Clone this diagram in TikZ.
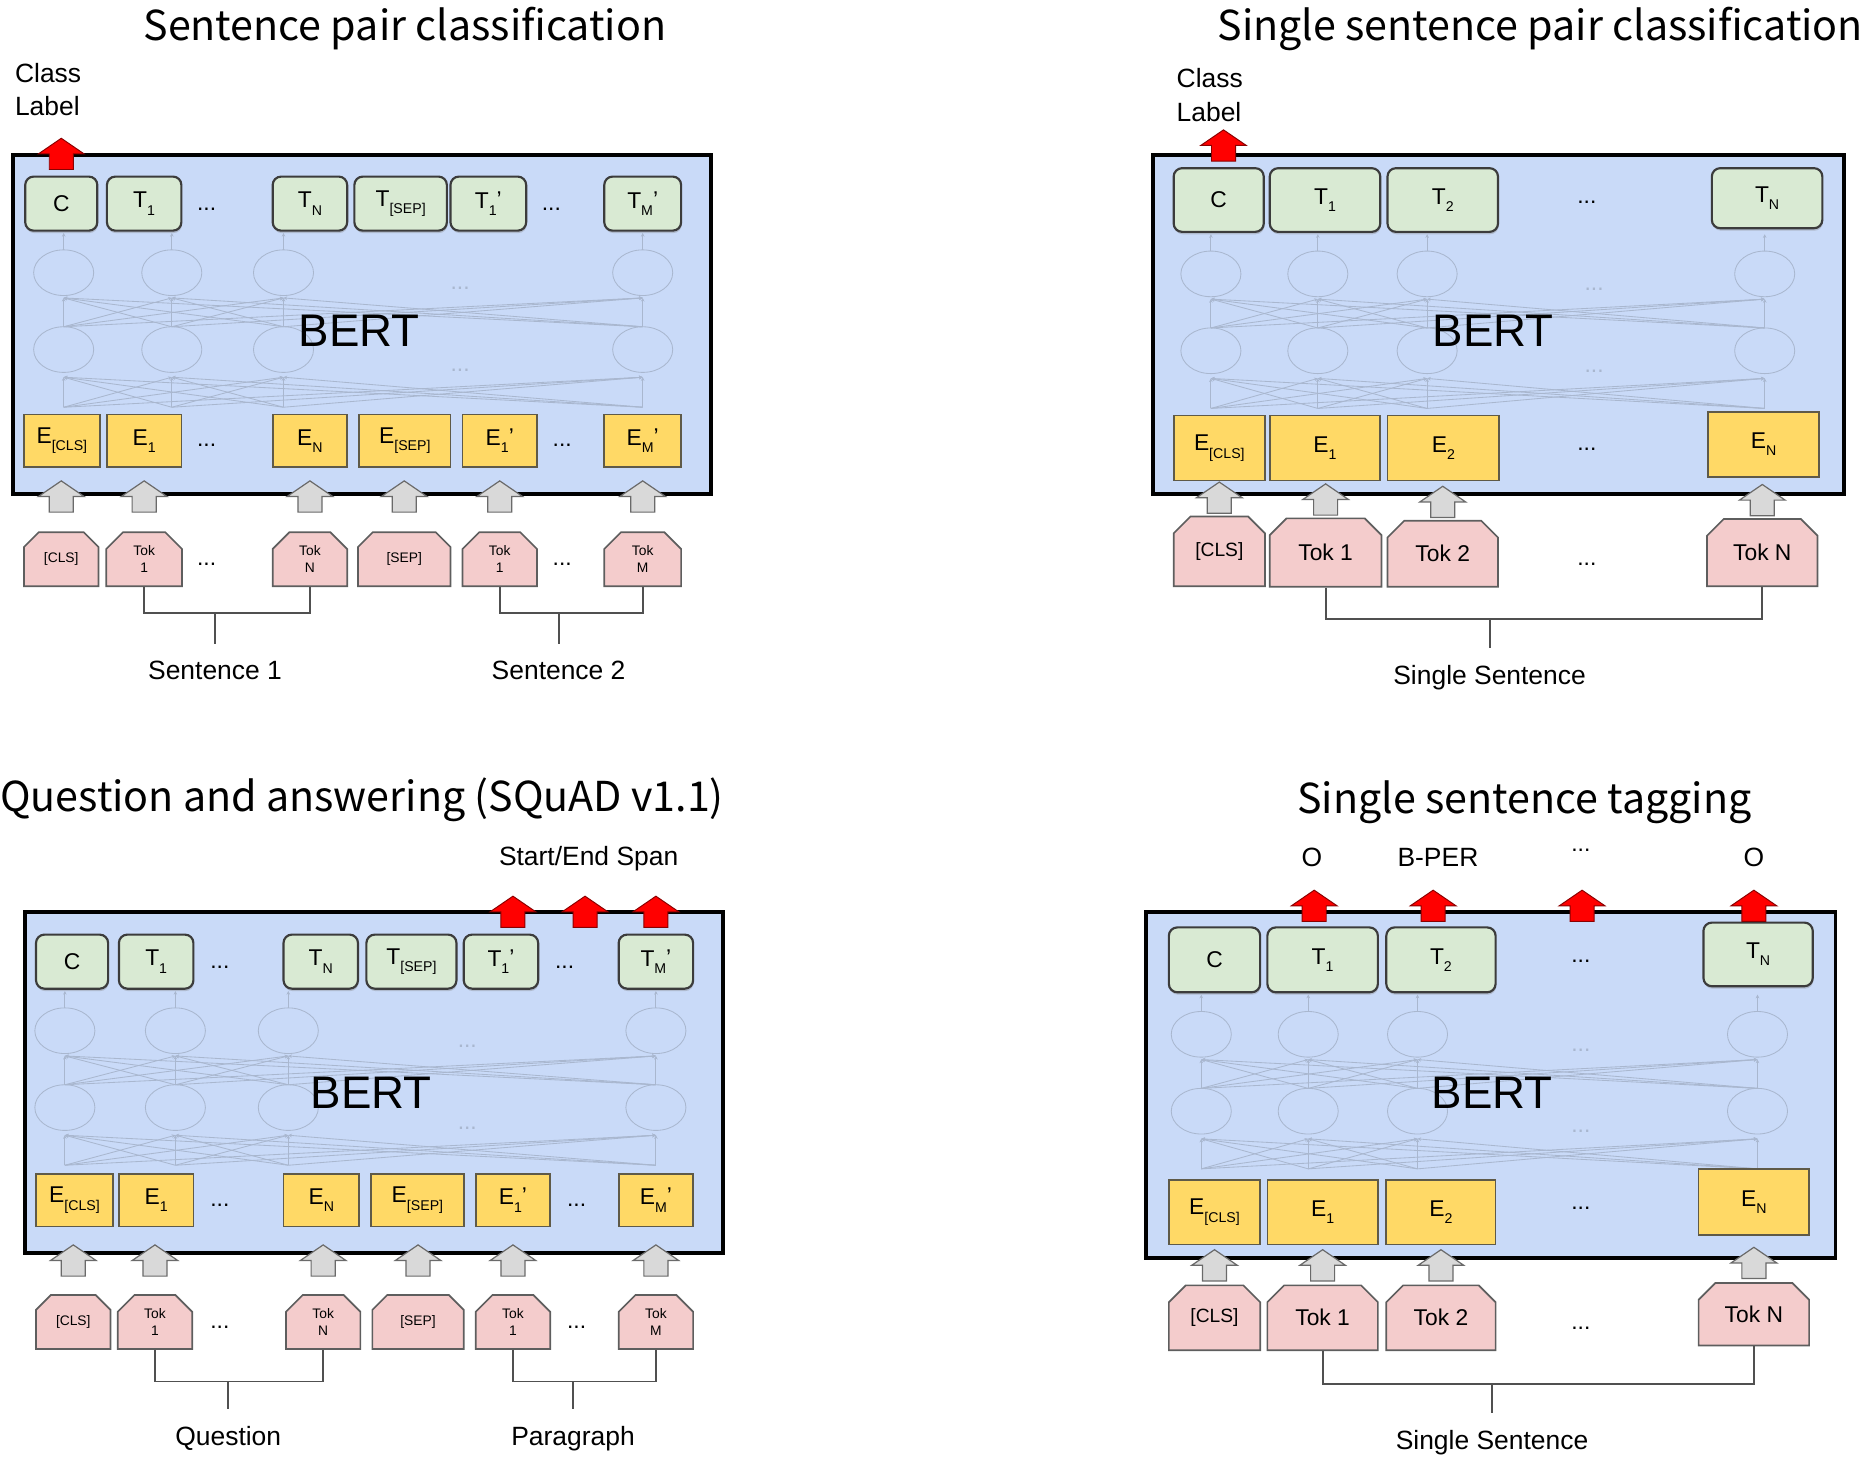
\documentclass[tikz,border=0pt]{standalone}
\usepackage{fontspec}
\usepackage{graphicx}
\setmainfont{Liberation Sans}
\newfontfamily\titlefont{Noto Sans CJK KR}
\usetikzlibrary{shapes.misc,shadows,calc,positioning,arrows.meta}

\definecolor{bertblue}{HTML}{C9DAF8}
\definecolor{outgreen}{HTML}{D9EAD3}
\definecolor{embyellow}{HTML}{FFD966}
\definecolor{tokpink}{HTML}{F4CCCC}
\definecolor{arrowgray}{HTML}{D9D9D9}
\definecolor{greenedge}{HTML}{3C3C3C}
\definecolor{yellowedge}{HTML}{5F5A48}
\definecolor{pinkedge}{HTML}{5E5E5E}
\definecolor{grayedge}{HTML}{6A6A6A}
\definecolor{rededge}{HTML}{8A0000}
\definecolor{netgray}{HTML}{A9B7CF}
\definecolor{linegray}{HTML}{505050}

\newcommand{\boxfont}{\fontsize{19}{22}\selectfont}
\newcommand{\smallfont}{\fontsize{11.5}{14}\selectfont}
\newcommand{\lo}[1]{\raisebox{-0.6ex}{\scalebox{0.62}{#1}}}
\newcommand{\lop}[1]{\lo{#1}\raisebox{0.1ex}{'}}

% faint layers inside a BERT box: #1 columns, #2 bottom of the top row, #3 x of the dots, #4 prefix
\newcommand{\bertnet}[4]{%
  \foreach \cx in {#1} {
    \draw[netline] (\cx,#2+35) ellipse [x radius=25, y radius=19];
    \draw[netline] (\cx,#2+99) ellipse [x radius=25, y radius=19];
    \draw[netline,-{Stealth[length=3pt,width=3pt]}] (\cx,#2+16) -- (\cx,#2+2);
    \foreach \cy in {#1} {
      \draw[netline,-{Stealth[length=3pt,width=3pt]}] (\cy,#2+80) -- (\cx,#2+56);
      \draw[netline,-{Stealth[length=3pt,width=3pt]}] (\cy,#2+147) -- (\cx,#2+122);
    }
  }
  \node[netdots] (#4netdotsA) at (#3,#2+48) {...};
  \node[netdots] (#4netdotsB) at (#3,#2+116) {...};
}

\tikzset{
  blockarrow/.pic={
    \path[pic actions] (-10,0) -- (-10,-13) -- (-19,-13) -- (0,-26) -- (19,-13) -- (10,-13) -- (10,0) -- cycle;
  },
}

\begin{document}
\begin{tikzpicture}[x=1pt, y=-1pt,
  bertbox/.style={draw=black, line width=3pt, fill=bertblue},
  outbox/.style={draw=greenedge, line width=1.8pt, fill=outgreen, rounded corners=7pt, inner sep=0pt, font=\boxfont,
    drop shadow={shadow xshift=0.5pt, shadow yshift=-2pt, opacity=0.35}},
  embbox/.style={draw=yellowedge, line width=1.4pt, fill=embyellow, inner sep=0pt, font=\boxfont},
  tokbox/.style={chamfered rectangle, chamfered rectangle corners={north west,north east},
    chamfered rectangle xsep=7pt, chamfered rectangle ysep=7pt, draw=pinkedge, line width=1.4pt,
    fill=tokpink, inner sep=0pt, align=center, font=\boxfont},
  smalltok/.style={font=\smallfont},
  midtok/.style={font=\fontsize{16}{18}\selectfont},
  gapdots/.style={font=\boxfont, inner sep=1pt},
  netline/.style={draw=netgray, line width=0.7pt},
  netdots/.style={font=\boxfont, text=netgray, inner sep=1pt},
  bertlabel/.style={font=\fontsize{38}{40}\selectfont},
  lbl/.style={font=\fontsize{22}{28}\selectfont},
  paneltitle/.style={font=\titlefont\fontsize{34.3}{38}\selectfont, inner sep=0pt},
  inarrow/.style={fill=arrowgray, draw=grayedge, line width=1pt},
  outarrow/.style={fill=red, draw=rededge, line width=0.8pt},
  groupline/.style={draw=linegray, line width=1.6pt},
]
\useasboundingbox (0,0) rectangle (1560,1215.3);

% ---- sentence pair classification
\node[paneltitle] (aTitle) at (337,24) {Sentence pair classification};
\node[lbl, align=left, anchor=west] (aClass) at (9,74.5) {Class\\Label};
\draw[bertbox] (11,129) rectangle (592,411);
\bertnet{53,143,236,535}{192}{383}{a}
\node[bertlabel] (aBert) at (299,275) {BERT};
\foreach \n/\x/\w/\t in {aC/51/60/C, aT1/120/62/T\lo{1}, aTN/258/62/T\lo{N}, aTS/333.5/77/T\lo{[SEP]}, aT1p/406.5/63/T\lop{1}, aTM/535/64/T\lop{M}}
  \node[outbox, minimum width=\w, minimum height=45] (\n) at (\x,169.5) {\t};
\foreach \n/\x/\w/\t in {aE0/51.5/63/E\lo{[CLS]}, aE1/120/62/E\lo{1}, aEN/258/62/E\lo{N}, aES/337/76/E\lo{[SEP]}, aE1p/416/62/E\lop{1}, aEM/535/64/E\lop{M}}
  \node[embbox, minimum width=\w, minimum height=44] (\n) at (\x,367) {\t};
\foreach \n/\x/\w/\t in {aK0/51/62/{[CLS]}, aK1/120/63/{Tok\\1}, aKN/258/62/{Tok\\N}, aKS/336.5/77/{[SEP]}, aK1p/416/62/{Tok\\1}, aKM/535/64/{Tok\\M}}
  \node[tokbox, smalltok, minimum width=\w, minimum height=45] (\n) at (\x,465.5) {\t};
\foreach \n/\x/\y in {aTd1/172/174, aTd2/459/174, aEd1/172/371, aEd2/468/371, aKd1/172/470, aKd2/468/470}
  \node[gapdots] (\n) at (\x,\y) {...};
\foreach \n in {aK0,aK1,aKN,aKS,aK1p,aKM}
  \pic[inarrow] at ($(\n.north)+(0,-16)$) {blockarrow};
\pic[outarrow] at ($(aC.north)+(0,-5)$) {blockarrow};
\coordinate (aJ1) at (179,510);
\coordinate (aJ2) at (465,510);
\draw[groupline] (aK1.south) |- (aJ1) -| (aKN.south);
\draw[groupline] (aK1p.south) |- (aJ2) -| (aKM.south);
\draw[groupline] (aJ1) -- ++(0,26) coordinate (aJ1s);
\draw[groupline] (aJ2) -- ++(0,26) coordinate (aJ2s);
\node[lbl, below=11pt of aJ1s] (aSent1) {Sentence 1};
\node[lbl, below=11pt of aJ2s] (aSent2) {Sentence 2};

% ---- single sentence classification
\node[paneltitle, anchor=east] (bTitle) at (1551,24) {Single sentence pair classification};
\node[lbl, align=left, anchor=west] (bClass) at (976,79) {Class\\Label};
\draw[bertbox] (960,129) rectangle (1535,411);
\bertnet{1008,1097,1188,1469}{193}{1327}{b}
\node[bertlabel] (bBert) at (1243,275) {BERT};
\foreach \n/\x/\w/\t in {bC/1014.5/75/C, bT1/1103/92/T\lo{1}, bT2/1201/92/T\lo{2}}
  \node[outbox, minimum width=\w, minimum height=53] (\n) at (\x,166.5) {\t};
\node[outbox, minimum width=92, minimum height=50] (bTN) at (1471,165) {T\lo{N}};
\foreach \n/\x/\w/\t in {bE0/1015/76/E\lo{[CLS]}, bE1/1103/92/E\lo{1}, bE2/1201.5/93/E\lo{2}}
  \node[embbox, minimum width=\w, minimum height=54] (\n) at (\x,373) {\t};
\node[embbox, minimum width=92, minimum height=54] (bEN) at (1468,370) {E\lo{N}};
\node[tokbox, midtok, minimum width=76, minimum height=58] (bK0) at (1015,459) {[CLS]};
\node[tokbox, minimum width=93, minimum height=57] (bK1) at (1103.5,460) {Tok 1};
\node[tokbox, minimum width=92, minimum height=55] (bK2) at (1201,461) {Tok 2};
\node[tokbox, minimum width=92, minimum height=56] (bKN) at (1467,460) {Tok N};
\foreach \n/\y in {bTd/168, bEd/374, bKd/470}
  \node[gapdots] (\n) at (1321,\y) {...};
\foreach \n in {bK0,bK1,bK2,bKN}
  \pic[inarrow] at ($(\n.north)+(0,-2)$) {blockarrow};
\pic[outarrow] at ($(bC.north)+(4,-5)$) {blockarrow};
\coordinate (bJ) at (1240,515);
\draw[groupline] (bK1.south) |- (bJ) -| (bKN.south);
\draw[groupline] (bJ) -- ++(0,24) coordinate (bJs);
\node[lbl, below=11pt of bJs] (bSent) {Single Sentence};

% ---- question answering
\node[paneltitle, anchor=west] (cTitle) at (0,666) {Question and answering (SQuAD v1.1)};
\node[lbl] (cSpan) at (490,715) {Start/End Span};
\draw[bertbox] (21,759) rectangle (602,1043);
\bertnet{54,146,240,546}{823}{389}{c}
\node[bertlabel] (cBert) at (309,910) {BERT};
\foreach \n/\x/\w/\t in {cC/60/60/C, cT1/130/62/T\lo{1}, cTN/267/62/T\lo{N}, cTS/342.5/75/T\lo{[SEP]}, cT1p/417/62/T\lop{1}, cTM/546/62/T\lop{M}}
  \node[outbox, minimum width=\w, minimum height=45] (\n) at (\x,800.5) {\t};
\foreach \n/\x/\w/\t in {cE0/62/64/E\lo{[CLS]}, cE1/130/62/E\lo{1}, cEN/267.5/63/E\lo{N}, cES/347.5/77/E\lo{[SEP]}, cE1p/427/62/E\lop{1}, cEM/546/62/E\lop{M}}
  \node[embbox, minimum width=\w, minimum height=44] (\n) at (\x,999) {\t};
\foreach \n/\x/\w/\t in {cK0/61/62/{[CLS]}, cK1/129/62/{Tok\\1}, cKN/269/62/{Tok\\N}, cKS/348/76/{[SEP]}, cK1p/427/62/{Tok\\1}, cKM/546/62/{Tok\\M}}
  \node[tokbox, smalltok, minimum width=\w, minimum height=45] (\n) at (\x,1100.5) {\t};
\foreach \n/\x/\y in {cTd1/183/805, cTd2/470/805, cEd1/183/1003, cEd2/480/1003, cKd1/183/1105, cKd2/480/1105}
  \node[gapdots] (\n) at (\x,\y) {...};
\foreach \n in {cK0,cK1,cKN,cKS,cK1p,cKM}
  \pic[inarrow] at ($(\n.north)+(0,-15)$) {blockarrow};
\foreach \x in {427,487,546}
  \pic[outarrow] at (\x,772) {blockarrow};
\coordinate (cJ1) at (190,1150);
\coordinate (cJ2) at (477,1150);
\draw[groupline] (cK1.south) |- (cJ1) -| (cKN.south);
\draw[groupline] (cK1p.south) |- (cJ2) -| (cKM.south);
\draw[groupline] (cJ1) -- ++(0,23) coordinate (cJ1s);
\draw[groupline] (cJ2) -- ++(0,23) coordinate (cJ2s);
\node[lbl, below=11pt of cJ1s] (cQuest) {Question};
\node[lbl, below=11pt of cJ2s] (cPara) {Paragraph};

% ---- single sentence tagging
\node[paneltitle] (dTitle) at (1269,668) {Single sentence tagging};
\foreach \n/\x/\t in {dLab1/1092/O, dLab2/1197/B-PER, dLab4/1460/O}
  \node[lbl] (\n) at (\x,714) {\t};
\node[gapdots] (dLab3) at (1316,708) {...};
\draw[bertbox] (954,759) rectangle (1528,1047);
\bertnet{1000,1089,1180,1463}{826}{1316}{d}
\node[bertlabel] (dBert) at (1242,910) {BERT};
\foreach \n/\x/\w/\t in {dC/1011/76/C, dT1/1101/92/T\lo{1}, dT2/1199.5/91/T\lo{2}}
  \node[outbox, minimum width=\w, minimum height=54] (\n) at (\x,799) {\t};
\node[outbox, minimum width=91, minimum height=53] (dTN) at (1463.5,794.5) {T\lo{N}};
\foreach \n/\x/\w/\t in {dE0/1011/76/E\lo{[CLS]}, dE1/1101/92/E\lo{1}, dE2/1199.5/91/E\lo{2}}
  \node[embbox, minimum width=\w, minimum height=54] (\n) at (\x,1009) {\t};
\node[embbox, minimum width=92, minimum height=55] (dEN) at (1460,1000.5) {E\lo{N}};
\node[tokbox, midtok, minimum width=76, minimum height=54] (dK0) at (1011,1097) {[CLS]};
\node[tokbox, minimum width=92, minimum height=54] (dK1) at (1101,1097) {Tok 1};
\node[tokbox, minimum width=91, minimum height=54] (dK2) at (1199.5,1097) {Tok 2};
\node[tokbox, minimum width=92, minimum height=52] (dKN) at (1460,1094) {Tok N};
\foreach \n/\y in {dTd/800, dEd/1006, dKd/1106}
  \node[gapdots] (\n) at (1316,\y) {...};
\foreach \n in {dK0,dK1,dK2,dKN}
  \pic[inarrow] at ($(\n.north)+(0,-3)$) {blockarrow};
\foreach \x in {1094,1193,1317,1460}
  \pic[outarrow] at (\x,767) {blockarrow};
\coordinate (dJ) at (1242,1152);
\draw[groupline] (dK1.south) |- (dJ) -| (dKN.south);
\draw[groupline] (dJ) -- ++(0,24) coordinate (dJs);
\node[lbl, below=11pt of dJs] (dSent) {Single Sentence};
\end{tikzpicture}
\end{document}
